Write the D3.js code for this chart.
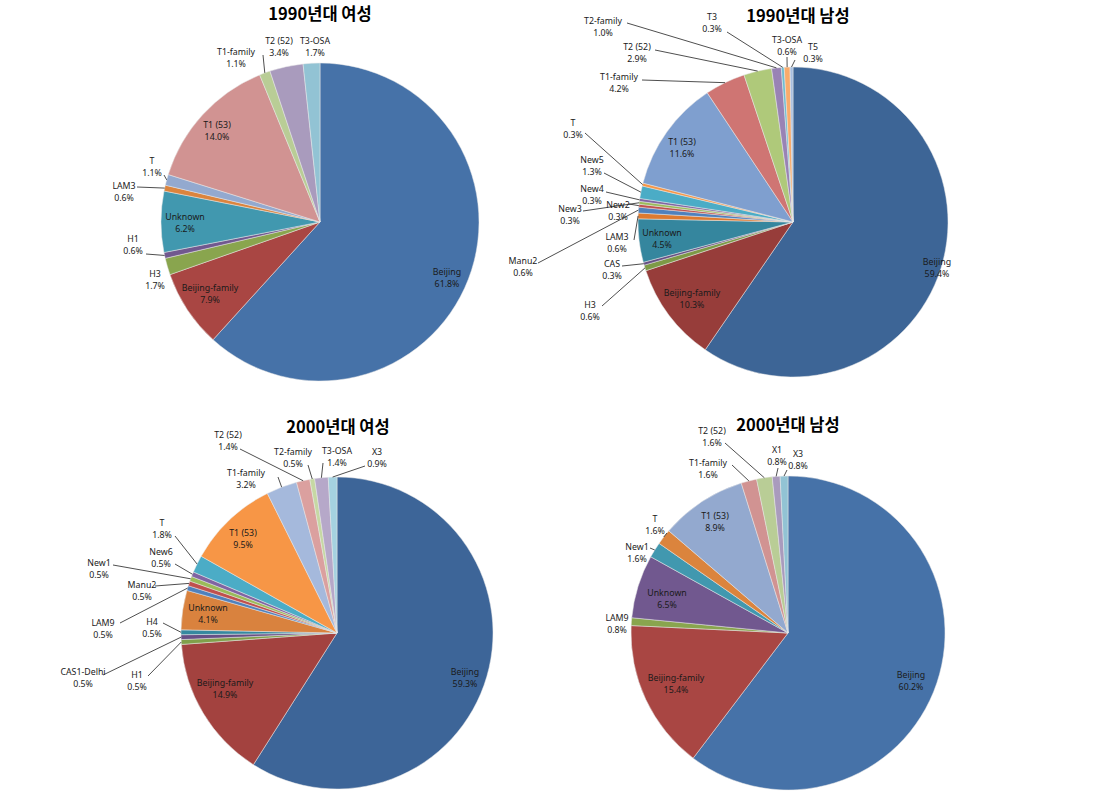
<!DOCTYPE html>
<html>
<head>
<meta charset="utf-8">
<script src="https://cdn.jsdelivr.net/npm/d3@7"></script>
<style>
  html, body { margin: 0; padding: 0; background: #ffffff; }
  svg { display: block; }
</style>
</head>
<body>
<svg id="chart" width="1115" height="809"></svg>
<script>
// ---------------- DATA ----------------
// 1990년대 여성
const f90Categories = ["Beijing","Beijing-family","H3","H1","Unknown","LAM3","T","T1 (53)","T1-family","T2 (52)","T3-OSA"];
const f90Values = [61.8,7.9,1.7,0.6,6.2,0.6,1.1,14.0,1.1,3.4,1.7];

// 1990년대 남성
const m90Categories = ["Beijing","Beijing-family","H3","CAS","Unknown","LAM3","Manu2","New2","New3","New4","New5","T","T1 (53)","T1-family","T2 (52)","T2-family","T3","T3-OSA","T5"];
const m90Values = [59.4,10.3,0.6,0.3,4.5,0.6,0.6,0.3,0.3,0.3,1.3,0.3,11.6,4.2,2.9,1.0,0.3,0.6,0.3];

// 2000년대 여성
const f00Categories = ["Beijing","Beijing-family","H1","CAS1-Delhi","H4","Unknown","LAM9","Manu2","New1","New6","T","T1 (53)","T1-family","T2 (52)","T2-family","T3-OSA","X3"];
const f00Values = [59.3,14.9,0.5,0.5,0.5,4.1,0.5,0.5,0.5,0.5,1.8,9.5,3.2,1.4,0.5,1.4,0.9];

// 2000년대 남성
const m00Categories = ["Beijing","Beijing-family","LAM9","Unknown","New1","T","T1 (53)","T1-family","T2 (52)","X1","X3"];
const m00Values = [60.2,15.4,0.8,6.5,1.6,1.6,8.9,1.6,1.6,0.8,0.8];

const titles = ["1990년대 여성","1990년대 남성","2000년대 여성","2000년대 남성"];

// ---------------- STYLE / LAYOUT ----------------
const pal11 = ['#4672A8','#A94643','#89A54E','#71588F','#4198AF','#DB843D','#93A9CF','#D19392','#B9CD96','#A99BBD','#92C3D4'];
const pal19 = ['#3D6596','#973D3A','#7D9A46','#654F83','#35869E','#DD7A30',
               '#4F81BD','#C0504D','#9BBB59','#8064A2','#4BACC6','#F79646',
               '#7F9FCF','#CF7573','#AFC97A','#9983B5','#6FBDD1','#F9AB6B','#A7BEE0'];
const pal17 = ['#3D6598','#A3423F','#80A04A','#674F86','#36889F','#D9823E',
               '#4F81BD','#C0504D','#9BBB59','#8064A2','#4BACC6','#F79646',
               '#A5B9DC','#DBA09F','#C6D8A3','#B6A8C9','#A5D2E0'];

// label placement: [textX, textY, leaderStartX, leaderStartY] (leader omitted if none)
const f90Labels = [[447,272],[210,288],[155,274],[133,239,146,254],[185,217],[124,186,137,187],[152,161,164,175],[217,125],[236,52,263,55],[279,41],[315,41]];
const m90Labels = [[937,262],[692,293],[590,305,602,306],[612,264,622,266],[662,233],[617,237,634,240],[523,261,538,263],[618,205,629,204],[570,209,583,211],[592,189,606,192],[592,160,604,173],[573,123,585,133],[682,142],[619,77,642,80],[637,47,655,50],[603,21,627,23],[712,17,727,32],[787,40,787,57],[813,47,795,60]];
const f00Labels = [[465,672],[225,683],[137,675,148,676],[83,672,103,675],[152,622,163,623],[208,608],[103,623,120,623],[142,585,155,586],[99,563,113,565],[161,552,175,564],[162,523,175,536],[243,533],[246,473,278,477],[228,435,240,449],[293,452,308,465],[337,451,323,463],[377,452,365,466]];
const m00Labels = [[911,675],[676,678],[617,618],[667,593],[637,547,650,548],[655,519,667,533],[715,516],[708,463,732,465],[712,431,725,443],[777,450,778,468],[798,454,787,470]];

const charts = [
  {cats:f90Categories, vals:f90Values, pal:pal11, labels:f90Labels, cx:320, cy:222, r:159, title:titles[0], tx:320, ty:14},
  {cats:m90Categories, vals:m90Values, pal:pal19, labels:m90Labels, cx:793, cy:222, r:155, title:titles[1], tx:798, ty:16},
  {cats:f00Categories, vals:f00Values, pal:pal17, labels:f00Labels, cx:337, cy:633, r:156, title:titles[2], tx:338, ty:427},
  {cats:m00Categories, vals:m00Values, pal:pal11, labels:m00Labels, cx:788, cy:633, r:157, title:titles[3], tx:788, ty:425}
];

const svg = d3.select("#chart");
const labelFont = "'Noto Sans', 'DejaVu Sans', sans-serif";

charts.forEach(c => {
  const data = c.cats.map((k,i) => ({name:k, value:c.vals[i], idx:i}));
  const pie = d3.pie().sort(null).value(d => d.value).startAngle(0).endAngle(2*Math.PI);
  const arcs = pie(data);
  const color = d3.scaleOrdinal().domain(c.cats).range(c.pal);
  const arc = d3.arc().innerRadius(0).outerRadius(c.r);

  const g = svg.append("g").attr("transform", `translate(${c.cx},${c.cy})`);
  g.selectAll("path").data(arcs).join("path")
    .attr("d", arc)
    .attr("fill", d => color(d.data.name))
    .attr("stroke", "#e8e8e8")
    .attr("stroke-width", 0.5);

  // leader lines
  const lg = svg.append("g");
  arcs.forEach((a,i) => {
    const L = c.labels[i];
    if (L && L.length === 4) {
      const mid = (a.startAngle + a.endAngle)/2;
      const ex = c.cx + c.r*Math.sin(mid);
      const ey = c.cy - c.r*Math.cos(mid);
      lg.append("line")
        .attr("x1", L[2]).attr("y1", L[3])
        .attr("x2", ex).attr("y2", ey)
        .attr("stroke", "#222").attr("stroke-width", 0.8);
    }
  });

  // labels
  const tg = svg.append("g")
    .attr("font-family", labelFont)
    .attr("font-size", "8.8px")
    .attr("fill", "#1a1a1a")
    .attr("text-anchor", "middle");
  arcs.forEach((a,i) => {
    const L = c.labels[i];
    const t = tg.append("text").attr("x", L[0]).attr("y", L[1]);
    t.append("tspan").attr("x", L[0]).attr("dy", "0.35em").text(a.data.name);
    t.append("tspan").attr("x", L[0]).attr("dy", "12").text(a.data.value.toFixed(1) + "%");
  });

  svg.append("text")
    .attr("x", c.tx).attr("y", c.ty)
    .attr("dy", "0.35em")
    .attr("text-anchor", "middle")
    .attr("font-family", "'Noto Sans CJK KR', sans-serif")
    .attr("font-weight", "bold")
    .attr("font-size", "16.5px")
    .attr("fill", "#000")
    .text(c.title);
});
</script>
</body>
</html>
